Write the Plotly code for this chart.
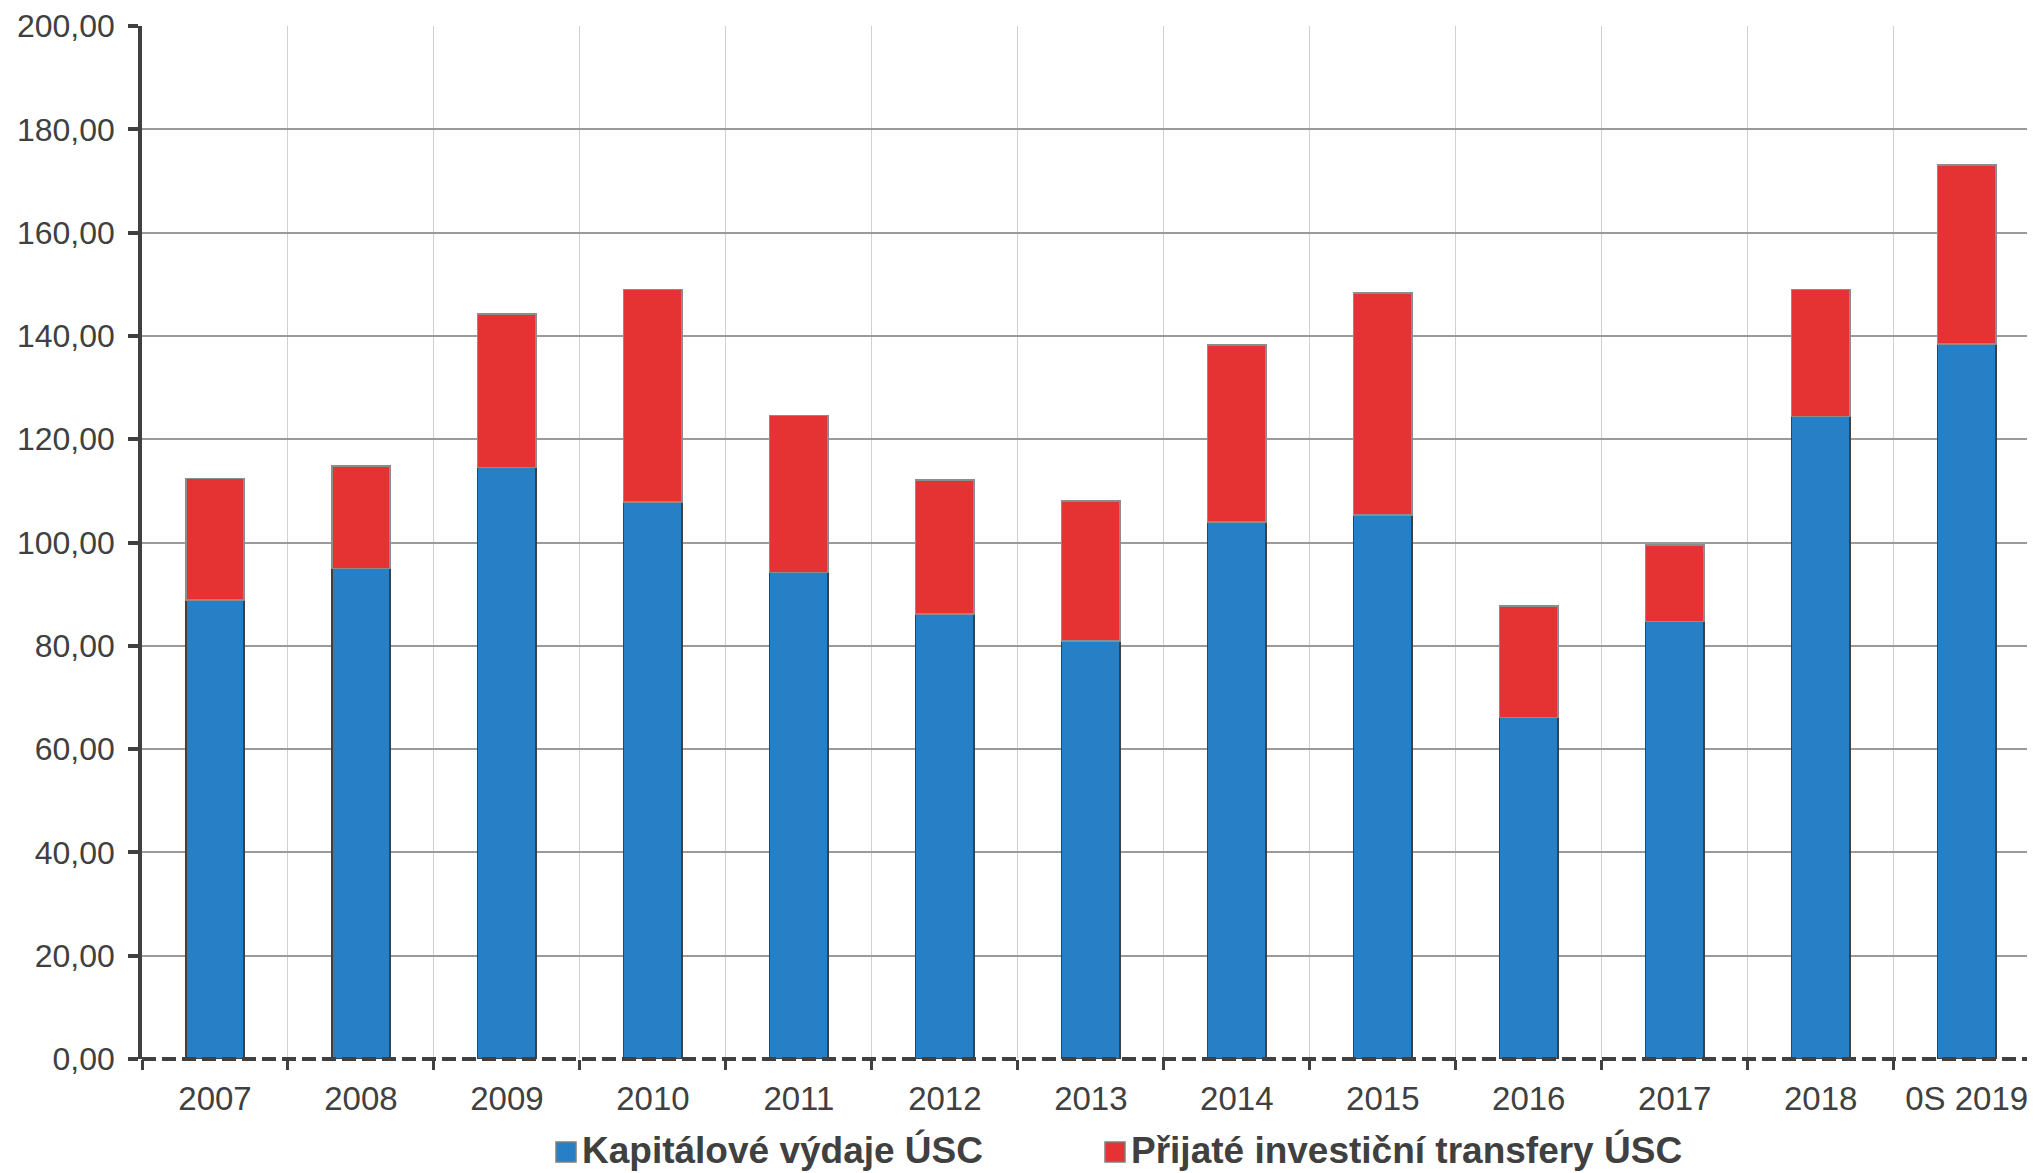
import plotly.graph_objects as go

categories = ["2007", "2008", "2009", "2010", "2011", "2012", "2013",
              "2014", "2015", "2016", "2017", "2018", "0S 2019"]
kapitalove = [88.9, 95.0, 114.5, 107.8, 94.2, 86.2, 80.9,
              104.0, 105.3, 66.1, 84.7, 124.4, 138.4]
celkem = [112.4, 114.8, 144.2, 149.0, 124.6, 112.1, 108.0,
          138.2, 148.3, 87.7, 99.5, 149.0, 173.1]
prijate = [round(t - k, 2) for t, k in zip(celkem, kapitalove)]
series_names = ["Kapitálové výdaje ÚSC", "Přijaté investiční transfery ÚSC"]
series_colors = ["#2780C5", "#E53333"]
y_ticks = [0, 20, 40, 60, 80, 100, 120, 140, 160, 180, 200]
y_tick_labels = [f"{v:.2f}".replace(".", ",") for v in y_ticks]

AX = "#404040"
FONT = "Liberation Sans, Arial, sans-serif"
OFF = 8  # default page body margin
W, H = 2035 - OFF, 1173 - OFF
ML, MR, MT, MB = 134, 0, 18, 114
PW, PH = W - ML - MR, H - MT - MB


def px_to_paper_x(px):
    return (px - OFF - ML) / PW


def px_to_paper_y(py):
    return (H - MB - (py - OFF)) / PH


fig = go.Figure()
fig.add_trace(go.Bar(
    x=categories, y=kapitalove, name=series_names[0], showlegend=False,
    marker=dict(color=series_colors[0], line=dict(color="#404040", width=1.5)),
))
fig.add_trace(go.Bar(
    x=categories, y=prijate, name=series_names[1], showlegend=False,
    marker=dict(color=series_colors[1], line=dict(color="#8C8C8C", width=1.5)),
))

fig.update_layout(
    width=W, height=H,
    barmode="stack", bargap=0.6,
    plot_bgcolor="white", paper_bgcolor="white",
    margin=dict(l=ML, r=MR, t=MT, b=MB, autoexpand=False),
    font=dict(family=FONT, color=AX, size=32),
    xaxis=dict(
        type="category", range=[-0.5, 12.468],
        tickson="boundaries", ticks="outside", ticklen=10, tickwidth=3,
        tickcolor=AX, showgrid=True, gridcolor="#D0D0D0", gridwidth=1,
        showline=False, zeroline=False,
        tickfont=dict(size=33, color=AX), ticklabelstandoff=17,
    ),
    yaxis=dict(
        range=[0, 200], tickvals=y_ticks, ticktext=y_tick_labels,
        ticks="outside", ticklen=10, tickwidth=3.5, tickcolor=AX,
        showline=True, linecolor=AX, linewidth=3.5,
        showgrid=True, gridcolor="#9A9A9A", gridwidth=1.5,
        zeroline=False, tickfont=dict(size=32, color=AX),
        ticklabelstandoff=7,
    ),
)

# dashed baseline at zero, drawn above the bars (paper ref => not clipped)
fig.add_shape(type="line", xref="paper", yref="paper", x0=0, x1=1, y0=0, y1=0,
              line=dict(color=AX, width=4, dash="14px,6px"), layer="above")

# legend drawn below the plot (squares + bold labels)
legend_sq_left = [556, 1105]
for name, color, sq in zip(series_names, series_colors, legend_sq_left):
    fig.add_shape(type="rect", xref="paper", yref="paper",
                  x0=px_to_paper_x(sq), x1=px_to_paper_x(sq + 20),
                  y0=px_to_paper_y(1162), y1=px_to_paper_y(1142),
                  fillcolor=color, line=dict(color="#7F7F7F", width=1.5))
    fig.add_annotation(xref="paper", yref="paper",
                       x=px_to_paper_x(sq + 24), y=px_to_paper_y(1150),
                       xanchor="left", yanchor="middle", showarrow=False,
                       text=f"<b>{name}</b>",
                       font=dict(family=FONT, size=37, color=AX))

fig.write_html("out.html")
